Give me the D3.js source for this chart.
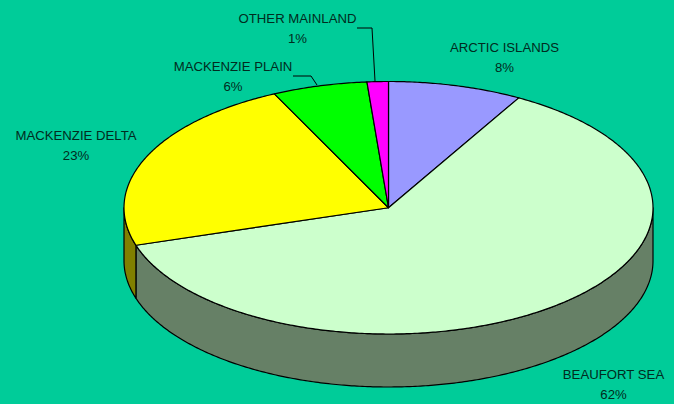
<!DOCTYPE html>
<html>
<head>
<meta charset="utf-8">
<script src="https://d3js.org/d3.v7.min.js"></script>
<style>
  html, body { margin: 0; padding: 0; background: #00CC99; }
  svg { display: block; }
  text { font-family: "Liberation Sans", Arial, sans-serif; font-size: 13.2px; fill: #002b20; }
</style>
</head>
<body>
<div id="chart"></div>
<script>
// values (the labels round these)
var regions = ["ARCTIC ISLANDS", "BEAUFORT SEA", "MACKENZIE DELTA", "MACKENZIE PLAIN", "OTHER MAINLAND"];
var shares = [8.2, 62, 22.7, 5.8, 1.3];
var colors = ["#9999FF", "#CCFFCC", "#FFFF00", "#00FF00", "#FF00FF"];
var sideColors = ["#4D4D80", "#668066", "#808000", "#008000", "#800080"];

var svgWidth = 674;
var svgHeight = 404;
var depth = 53;

var svg = d3.select("#chart")
  .append("svg")
  .attr("width", svgWidth)
  .attr("height", svgHeight);

// the tilted pie is a unit circle squashed by two scales
var xScale = d3.scaleLinear().domain([-1, 1]).range([124, 653]);
var yScale = d3.scaleLinear().domain([-1, 1]).range([81.5, 334]);

var slices = d3.pie().sort(null).value(d => d)(shares);
var percent = d3.format(".0%");

var line = d3.line().x(d => d[0]).y(d => d[1]);

// points along the rim between two angles, clockwise from 12 o'clock
function rim(a0, a1, drop) {
  var n = Math.max(2, Math.ceil((a1 - a0) / 0.01));
  return d3.range(n + 1).map(function(i) {
    var a = a0 + (a1 - a0) * i / n;
    return [xScale(Math.sin(a)), yScale(-Math.cos(a)) + drop];
  });
}

// side wall, only the front half of the rim shows
var wallGroup = svg.append("g");
slices.forEach(function(d, i) {
  var a0 = Math.max(d.startAngle, Math.PI / 2);
  var a1 = Math.min(d.endAngle, Math.PI * 1.5);
  if (a1 <= a0) return;
  var pts = rim(a0, a1, 0).concat(rim(a0, a1, depth).reverse());
  wallGroup.append("path")
    .attr("d", line(pts) + "Z")
    .attr("fill", sideColors[i])
    .attr("stroke", "#000")
    .attr("stroke-width", 1.2)
    .attr("stroke-linejoin", "round");
});

// top face
svg.append("g").selectAll("path")
  .data(slices)
  .enter()
  .append("path")
  .attr("d", d => line([[xScale(0), yScale(0)]].concat(rim(d.startAngle, d.endAngle, 0))) + "Z")
  .attr("fill", (d, i) => colors[i])
  .attr("stroke", "#000")
  .attr("stroke-width", 1.2)
  .attr("stroke-linejoin", "round");

// label placement, same order as regions
var labelX = [504.5, 613.5, 76, 233, 297.5];
var labelY = [51.5, 379, 139.5, 71, 22.5];

var labels = svg.append("g").selectAll("text")
  .data(slices)
  .enter()
  .append("text")
  .attr("text-anchor", "middle")
  .attr("x", (d, i) => labelX[i])
  .attr("y", (d, i) => labelY[i]);

labels.append("tspan")
  .text((d, i) => regions[i]);

labels.append("tspan")
  .attr("x", (d, i) => labelX[i])
  .attr("dy", 20)
  .text(d => percent(d.value / 100));

// leader lines for the two small slices
var leaders = [
  [[293, 76], [311, 76], [317, 85]],
  [[357, 28], [372, 28], [375, 81]]
];
svg.append("g").selectAll("path")
  .data(leaders)
  .enter()
  .append("path")
  .attr("d", line)
  .attr("fill", "none")
  .attr("stroke", "#000")
  .attr("stroke-width", 1);
</script>
</body>
</html>
